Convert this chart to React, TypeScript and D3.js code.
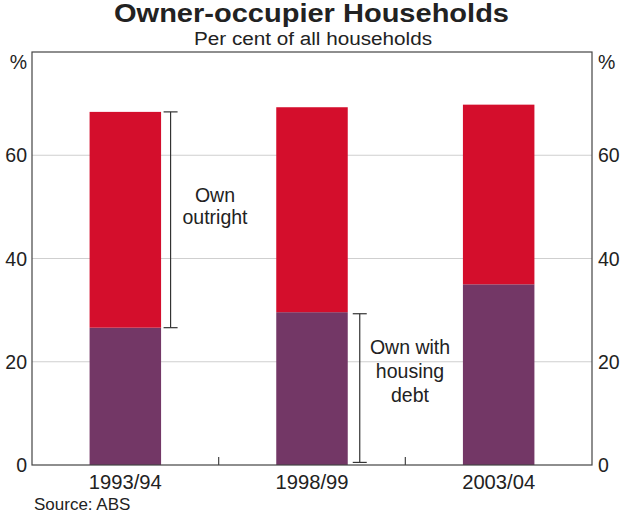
import React from "react";
import * as d3 from "d3";

const categories = ["1993/94", "1998/99", "2003/04"];
const withDebt = [26.6, 29.6, 35.0];
const outright = [41.8, 39.7, 34.8];
const yTicks = [0, 20, 40, 60];

const W = 622, H = 514;
const L = 32, R = 592, T = 52, B = 465;
const FONT = "'Liberation Sans', Arial, sans-serif";
const RED = "#d40e2c";
const PURPLE = "#733766";

export default function App() {
  const x = d3.scaleBand<string>().domain(categories).range([L, R]).paddingInner(0.617).paddingOuter(0.3085);
  const y = d3.scaleLinear().domain([0, 80]).range([B, T]);
  const stack = d3.stack<any>().keys(["debt", "out"])(
    categories.map((c, i) => ({ cat: c, debt: withDebt[i], out: outright[i] }))
  );
  const colors = [PURPLE, RED];
  const step = x.step();
  const seps = categories.slice(1).map((c) => (x(c) as number) - (step - x.bandwidth()) / 2);

  const bracket = (xc: number, v0: number, v1: number) => (
    <g stroke="#333" strokeWidth={1.2}>
      <line x1={xc} x2={xc} y1={y(v0)} y2={y(v1)} />
      <line x1={xc - 7} x2={xc + 7} y1={y(v0)} y2={y(v0)} />
      <line x1={xc - 7} x2={xc + 7} y1={y(v1)} y2={y(v1)} />
    </g>
  );
  const b0 = (x(categories[0]) as number) + x.bandwidth();
  const b1 = (x(categories[1]) as number) + x.bandwidth();

  return (
    <svg width={W} height={H} style={{ position: "absolute", left: 0, top: 0, background: "#fff" }} fontFamily={FONT}>
      <text x={311.5} y={21.5} textAnchor="middle" fontSize={25.5} fontWeight="bold" fill="#222" textLength={395} lengthAdjust="spacingAndGlyphs">Owner-occupier Households</text>
      <text x={313} y={45} textAnchor="middle" fontSize={18} fill="#222" textLength={238} lengthAdjust="spacingAndGlyphs">Per cent of all households</text>
      {yTicks.slice(1).map((t) => (
        <line key={t} x1={L} x2={R} y1={y(t)} y2={y(t)} stroke="#cfcfcf" strokeWidth={1.2} />
      ))}
      {stack.map((s, si) =>
        s.map((d, i) => (
          <rect key={si + "-" + i} x={x(categories[i])} width={x.bandwidth()} y={y(d[1])} height={y(d[0]) - y(d[1])} fill={colors[si]} />
        ))
      )}
      <rect x={L} y={T} width={R - L} height={B - T} fill="none" stroke="#444" strokeWidth={1.2} />
      {seps.map((s) => (
        <line key={s} x1={s} x2={s} y1={B} y2={B - 8} stroke="#444" strokeWidth={1.2} />
      ))}
      {yTicks.map((t) => (
        <g key={t} fontSize={19.5} fill="#222">
          <text x={27} y={y(t)} dy="0.36em" textAnchor="end">{t}</text>
          <text x={598} y={y(t)} dy="0.36em" textAnchor="start">{t}</text>
        </g>
      ))}
      <text x={27} y={62} dy="0.36em" textAnchor="end" fontSize={19.5} fill="#222">%</text>
      <text x={598} y={62} dy="0.36em" textAnchor="start" fontSize={19.5} fill="#222">%</text>
      {categories.map((c) => (
        <text key={c} x={(x(c) as number) + x.bandwidth() / 2} y={488.5} textAnchor="middle" fontSize={19.5} fill="#222" textLength={73} lengthAdjust="spacingAndGlyphs">{c}</text>
      ))}
      {bracket(b0 + 9.5, withDebt[0], withDebt[0] + outright[0])}
      {bracket(b1 + 12, 0.5, withDebt[1] - 0.3)}
      <g fontSize={19.5} fill="#222" textAnchor="middle">
        <text x={215} y={195} dy="0.36em">Own</text>
        <text x={215} y={217} dy="0.36em">outright</text>
        <text x={410} y={347} dy="0.36em">Own with</text>
        <text x={410} y={371} dy="0.36em">housing</text>
        <text x={410} y={395} dy="0.36em">debt</text>
      </g>
      <text x={34} y={510} fontSize={17} fill="#222">Source: ABS</text>
    </svg>
  );
}
